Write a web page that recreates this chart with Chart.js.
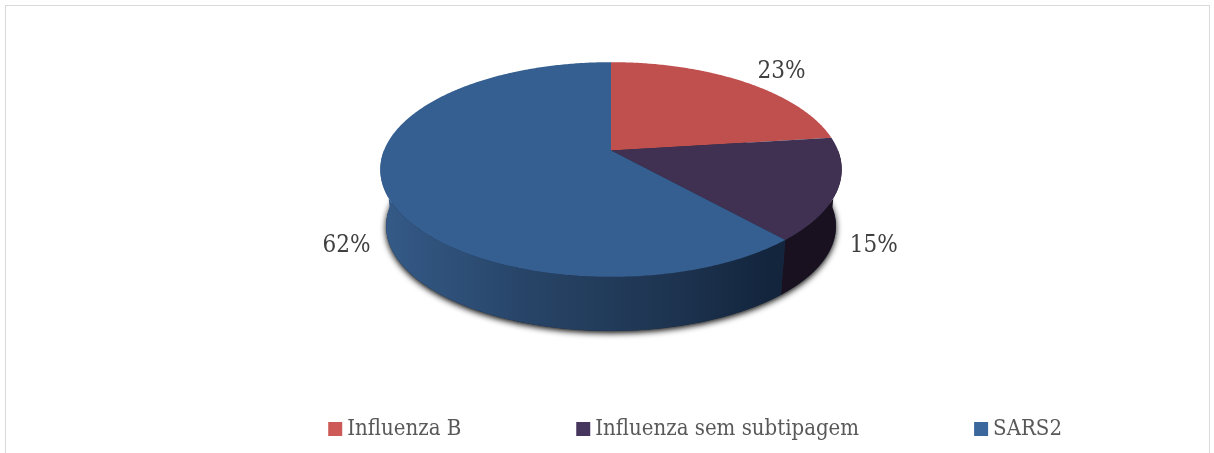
<!DOCTYPE html>
<html>
<head>
<meta charset="utf-8">
<style>
  html, body { margin: 0; padding: 0; background: #fff; }
  #wrap { position: relative; width: 1214px; height: 453px; overflow: hidden; }
  #frame { position: absolute; left: 5px; top: 5px; width: 1205px; height: 460px; border: 1px solid #d9d9d9; box-sizing: border-box; }
</style>
<script src="https://cdn.jsdelivr.net/npm/chart.js@4"></script>
</head>
<body>
<div id="wrap">
  <div id="frame"></div>
  <canvas id="chart" width="1214" height="453"></canvas>
</div>
<script>
var categories = ['Influenza B', 'Influenza sem subtipagem', 'SARS2'];
var shares = [23, 15.4, 61.6];
var sliceColors = ['#bf504e', '#403152', '#365f91'];
var legendColors = ['#cd5a57', '#46365e', '#3b679d'];
var wallDark = ['#7a2f2d', '#1a1120'];
var labelFont = '"DejaVu Serif Condensed", "DejaVu Serif"';

// perspective of the disc, relative to the pie radius chart.js works out
var tilt = { a: 1.529, far: 0.595, near: 0.851, depth: 0.385, shrink: 0.975, lift: -2 };
var k = (tilt.near - tilt.far) / (tilt.near + tilt.far);
var b = tilt.far * (1 + k);
var labelOffsets = [[38, -10], [36, 56], [-38, 56]];

function project(el, angle, lower) {
    var th = angle + Math.PI / 2;
    var u = Math.sin(th), v = Math.cos(th), w = 1 + k * v;
    var r = el.outerRadius;
    var s = lower ? tilt.shrink : 1;
    var drop = lower ? tilt.depth * r : 0;
    return {
        x: el.x + s * tilt.a * r * u / w,
        y: el.y - tilt.lift + drop - s * b * r * v / w
    };
}

function rimPath(ctx, el, from, to, lower, first) {
    var steps = Math.max(2, Math.round(Math.abs(to - from) / 0.01));
    for (var i = 0; i <= steps; i++) {
        var p = project(el, from + (to - from) * i / steps, lower);
        if (i === 0 && first) ctx.moveTo(p.x, p.y);
        else ctx.lineTo(p.x, p.y);
    }
}

var disc3d = {
    id: 'disc3d',
    beforeDatasetDraw: function (chart, args) {
        var ctx = chart.ctx;
        var arcs = args.meta.data;
        var el0 = arcs[0];
        var nearLeft = Math.PI;        // left edge of the disc, chart.js angle
        var nearRight = 0;

        // shadow comes from the lower disc only
        ctx.save();
        ctx.shadowColor = 'rgba(0,0,0,1)';
        ctx.shadowBlur = 6;
        ctx.shadowOffsetY = 2;
        ctx.fillStyle = '#1b2a40';
        ctx.beginPath();
        rimPath(ctx, el0, 0, Math.PI * 2, true, true);
        ctx.closePath();
        ctx.fill();
        ctx.restore();

        // walls, only the part of each slice facing the viewer
        arcs.forEach(function (el, i) {
            var from = Math.max(el.startAngle, nearRight);
            var to = Math.min(el.endAngle, nearLeft);
            if (to <= from) return;
            var left = project(el, nearLeft, false).x;
            var right = project(el, nearRight, false).x;
            var grad = ctx.createLinearGradient(left, 0, right, 0);
            if (i === 2) {
                grad.addColorStop(0, '#345a87');
                grad.addColorStop(0.35, '#264264');
                grad.addColorStop(0.6, '#1f3653');
                grad.addColorStop(0.85, '#13253d');
                grad.addColorStop(1, '#13253d');
            } else {
                grad.addColorStop(0, wallDark[i]);
                grad.addColorStop(1, wallDark[i]);
            }
            ctx.fillStyle = grad;
            ctx.beginPath();
            rimPath(ctx, el, from, to, false, true);
            rimPath(ctx, el, to, from, true, false);
            ctx.closePath();
            ctx.fill();
        });

        // top face
        arcs.forEach(function (el, i) {
            ctx.fillStyle = sliceColors[i];
            ctx.beginPath();
            ctx.moveTo(el.x, el.y - tilt.lift);
            rimPath(ctx, el, el.startAngle, el.endAngle, false, false);
            ctx.closePath();
            ctx.fill();
        });
        return false;
    },
    afterDatasetsDraw: function (chart) {
        var ctx = chart.ctx;
        var meta = chart.getDatasetMeta(0);
        ctx.save();
        ctx.font = '24px ' + labelFont;
        ctx.fillStyle = '#404040';
        ctx.textAlign = 'center';
        ctx.textBaseline = 'middle';
        meta.data.forEach(function (el, i) {
            var mid = (el.startAngle + el.endAngle) / 2;
            var p = project(el, mid, false);
            var off = labelOffsets[i];
            ctx.fillText(Math.round(shares[i]) + '%', p.x + off[0], p.y + off[1]);
        });
        ctx.restore();
    }
};

new Chart(document.getElementById('chart'), {
    type: 'pie',
    data: {
        labels: categories,
        datasets: [{ data: shares, backgroundColor: sliceColors, borderWidth: 0 }]
    },
    options: {
        responsive: false,
        animation: false,
        layout: { padding: { left: 39, top: 0, right: 31, bottom: 3 } },
        plugins: {
            tooltip: { enabled: false },
            legend: {
                position: 'bottom',
                align: 'end',
                labels: {
                    boxWidth: 2,
                    boxHeight: 2,
                    padding: 121,
                    color: '#595959',
                    font: { family: labelFont, size: 22 },
                    generateLabels: function () {
                        return categories.map(function (name, i) {
                            return { text: name, fillStyle: legendColors[i], strokeStyle: legendColors[i], fontColor: '#595959', lineWidth: 12, index: i };
                        });
                    }
                }
            }
        }
    },
    plugins: [disc3d]
});
</script>
</body>
</html>
